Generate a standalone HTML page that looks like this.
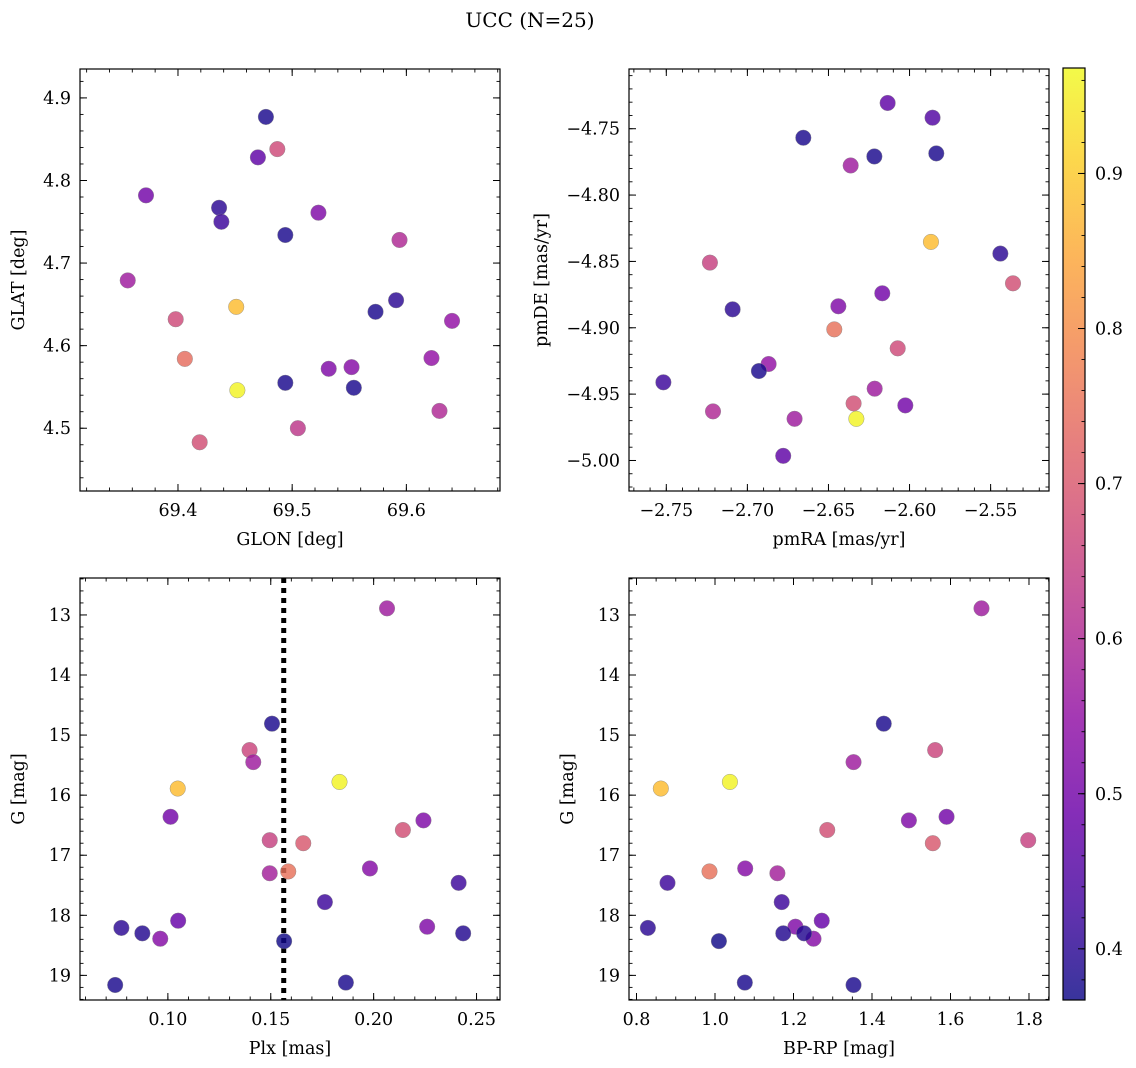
<!DOCTYPE html>
<html><head><meta charset="utf-8"><style>
html,body{margin:0;padding:0;background:#fff}
svg{display:block;font-family:"DejaVu Serif","Liberation Serif",serif}
</style></head><body>
<svg id="fig" width="1136" height="1068" viewBox="0 0 1136 1068" xmlns="http://www.w3.org/2000/svg">
<text x="530" y="27" font-size="20" text-anchor="middle">UCC (N=25)</text>
</svg>
<script>
// Panel 1: GLON vs GLAT
const glonVals=[69.477,69.487,69.470,69.372,69.436,69.438,69.523,69.494,69.594,69.356,69.451,69.591,69.573,69.640,69.398,69.406,69.622,69.532,69.552,69.494,69.452,69.554,69.629,69.505,69.419];
const glatVals=[4.877,4.838,4.828,4.782,4.767,4.750,4.761,4.734,4.728,4.679,4.647,4.655,4.641,4.630,4.632,4.584,4.585,4.572,4.574,4.555,4.546,4.549,4.521,4.500,4.483];
const glonProb=[0.38,0.67,0.47,0.50,0.40,0.42,0.52,0.38,0.60,0.57,0.88,0.40,0.38,0.55,0.67,0.74,0.55,0.52,0.53,0.38,0.96,0.38,0.60,0.63,0.68];
// Panel 2: pmRA vs pmDE
const pmraVals=[-2.6135,-2.5858,-2.6655,-2.6217,-2.5835,-2.6363,-2.5868,-2.5440,-2.7231,-2.5362,-2.6168,-2.7091,-2.6439,-2.6464,-2.6073,-2.6869,-2.6929,-2.7518,-2.6215,-2.7212,-2.6345,-2.6026,-2.6709,-2.6328,-2.6779];
const pmdeVals=[-4.7306,-4.7417,-4.7568,-4.7709,-4.7686,-4.7777,-4.8353,-4.8441,-4.8509,-4.8665,-4.8740,-4.8861,-4.8838,-4.9012,-4.9155,-4.9273,-4.9326,-4.9411,-4.9459,-4.9630,-4.9570,-4.9585,-4.9686,-4.9686,-4.9965];
const pmProb=[0.47,0.45,0.38,0.38,0.38,0.57,0.88,0.40,0.65,0.68,0.50,0.40,0.52,0.75,0.67,0.55,0.38,0.42,0.57,0.60,0.68,0.50,0.57,0.96,0.47];
// Panels 3/4: Plx, BP-RP vs G (shared stars)
const plxVals=[0.2065,0.1506,0.1397,0.1415,0.1048,0.1834,0.1013,0.2242,0.2142,0.1495,0.1658,0.1982,0.1495,0.1585,0.2413,0.1763,0.1050,0.2260,0.0774,0.0876,0.0963,0.2435,0.1565,0.0744,0.1865];
const gVals=[12.89,14.81,15.25,15.45,15.89,15.78,16.36,16.42,16.58,16.75,16.80,17.22,17.30,17.27,17.46,17.78,18.09,18.19,18.21,18.30,18.39,18.30,18.43,19.16,19.12];
const bprpVals=[1.679,1.430,1.561,1.353,0.862,1.038,1.590,1.494,1.286,1.798,1.555,1.077,1.159,0.986,0.879,1.170,1.272,1.205,0.829,1.174,1.251,1.227,1.010,1.353,1.076];
const starProb=[0.57,0.38,0.66,0.57,0.88,0.96,0.50,0.52,0.68,0.65,0.70,0.53,0.58,0.75,0.42,0.42,0.48,0.52,0.40,0.39,0.53,0.39,0.37,0.38,0.38];
const plxCut=[0.1563];
// tick arrays
const glonTicks=[69.4,69.5,69.6];
const glatTicks=[4.5,4.6,4.7,4.8,4.9];
const pmraTicks=[-2.75,-2.70,-2.65,-2.60,-2.55];
const pmdeTicks=[-5.00,-4.95,-4.90,-4.85,-4.80,-4.75];
const plxTicks=[0.10,0.15,0.20,0.25];
const gTicks=[13,14,15,16,17,18,19];
const bprpTicks=[0.8,1.0,1.2,1.4,1.6,1.8];
const cbTicks=[0.4,0.5,0.6,0.7,0.8,0.9];
const VMIN=0.367, VMAX=0.968;

const NS="http://www.w3.org/2000/svg";
const svg=document.getElementById('fig');
function mk(tag,attrs,parent){const e=document.createElementNS(NS,tag);for(const k in attrs)e.setAttribute(k,attrs[k]);(parent||svg).appendChild(e);return e;}
const PL=[[13,8,135],[65,4,157],[106,0,168],[143,13,164],[177,42,144],[204,71,120],[225,100,98],[242,132,75],[252,166,54],[252,206,37],[240,249,33]];
function cmap(v){let t=(v-VMIN)/(VMAX-VMIN);t=Math.max(0,Math.min(1,t))*10;const i=Math.min(9,Math.floor(t)),f=t-i;const a=PL[i],b=PL[i+1];return 'rgb('+a.map((c,j)=>Math.round(c+(b[j]-c)*f)).join(',')+')';}
function fmt(v,d){return (v<0?'\u2212':'')+Math.abs(v).toFixed(d);}

function panel(o){
  const g=mk('g',{});
  
  
  const sx=v=>o.x0+(v-o.xr[0])/(o.xr[1]-o.xr[0])*(o.x1-o.x0);
  const sy=v=>o.inv? o.y0+(v-o.yr[0])/(o.yr[1]-o.yr[0])*(o.y1-o.y0) : o.y1-(v-o.yr[0])/(o.yr[1]-o.yr[0])*(o.y1-o.y0);
  const mt=mk('g',{stroke:'#000','stroke-width':0.9},g);
  
  
  let s=Math.ceil(o.xr[0]/o.xm-1e-9);
  for(let v=s*o.xm;v<=o.xr[1]+1e-9;v+=o.xm){const x=sx(v);mk('line',{x1:x,x2:x,y1:o.y1,y2:o.y1-3.5},mt);mk('line',{x1:x,x2:x,y1:o.y0,y2:o.y0+3.5},mt);}
  s=Math.ceil(o.yr[0]/o.ym-1e-9);
  for(let v=s*o.ym;v<=o.yr[1]+1e-9;v+=o.ym){const y=sy(v);mk('line',{x1:o.x0,x2:o.x0+3.5,y1:y,y2:y},mt);mk('line',{x1:o.x1,x2:o.x1-3.5,y1:y,y2:y},mt);}
  const M=mk('g',{stroke:'#000','stroke-width':1},g);
  
  
  o.xt.forEach(v=>{const x=sx(v);mk('line',{x1:x,x2:x,y1:o.y1,y2:o.y1-7},M);mk('line',{x1:x,x2:x,y1:o.y0,y2:o.y0+7},M);
    const t=mk('text',{x:x,y:o.y1+25,'font-size':17.5,'text-anchor':'middle'},g);t.textContent=fmt(v,o.xd);
    
    });
  o.yt.forEach(v=>{const y=sy(v);mk('line',{x1:o.x0,x2:o.x0+7,y1:y,y2:y},M);mk('line',{x1:o.x1,x2:o.x1-7,y1:y,y2:y},M);
    const t=mk('text',{x:o.x0-9,y:y+6,'font-size':17.5,'text-anchor':'end'},g);t.textContent=fmt(v,o.yd);
    
    });
  if(o.vline){o.vline.forEach(v=>{const l=mk('line',{x1:sx(v),x2:sx(v),y1:o.y0,y2:o.y1,stroke:'#000','stroke-width':5,'stroke-dasharray':'5 5'},g);
    
    });}
  o.xs.forEach((xv,i)=>{const c=mk('circle',{cx:sx(xv),cy:sy(o.ys[i]),r:7.8,fill:cmap(o.cs[i]),'fill-opacity':0.82,stroke:'#888','stroke-width':0.4},g);
    
    });
  const f=mk('rect',{x:o.x0,y:o.y0,width:o.x1-o.x0,height:o.y1-o.y0,fill:'none',stroke:'#000','stroke-width':1.2},g);
  
  
  const xl=mk('text',{x:(o.x0+o.x1)/2,y:o.y1+54,'font-size':17.5,'text-anchor':'middle'},g);xl.textContent=o.xlab;
  
  
  const yc=(o.y0+o.y1)/2, yx=o.ylx;
  const yl=mk('text',{x:yx,y:yc,'font-size':17.5,'text-anchor':'middle',transform:'rotate(-90 '+yx+' '+yc+')'},g);yl.textContent=o.ylab;
  
  
}
panel({name:'glon-glat-panel',x0:80,x1:500,y0:69,y1:491,xr:[69.3142,69.682],yr:[4.424,4.935],xm:0.02,ym:0.02,xt:glonTicks,yt:glatTicks,xd:1,yd:1,xs:glonVals,ys:glatVals,cs:glonProb,xlab:'GLON [deg]',ylab:'GLAT [deg]',ylx:24});
panel({name:'pm-panel',x0:629,x1:1049,y0:69,y1:491,xr:[-2.773,-2.514],yr:[-5.023,-4.705],xm:0.01,ym:0.01,xt:pmraTicks,yt:pmdeTicks,xd:2,yd:2,xs:pmraVals,ys:pmdeVals,cs:pmProb,xlab:'pmRA [mas/yr]',ylab:'pmDE [mas/yr]',ylx:547});
panel({name:'plx-g-panel',x0:80,x1:500,y0:578,y1:1000,xr:[0.0573,0.2614],yr:[12.385,19.41],inv:true,xm:0.01,ym:0.2,xt:plxTicks,yt:gTicks,xd:2,yd:0,xs:plxVals,ys:gVals,cs:starProb,xlab:'Plx [mas]',ylab:'G [mag]',ylx:24,vline:plxCut});
panel({name:'cmd-panel',x0:629,x1:1049,y0:578,y1:1000,xr:[0.7809,1.851],yr:[12.385,19.41],inv:true,xm:0.05,ym:0.2,xt:bprpTicks,yt:gTicks,xd:1,yd:0,xs:bprpVals,ys:gVals,cs:starProb,xlab:'BP-RP [mag]',ylab:'G [mag]',ylx:573});
(function(){
  const x0=1063,x1=1085,y0=68,y1=1000;
  const defs=mk('defs',{});const lg=mk('linearGradient',{id:'cbg',x1:0,y1:1,x2:0,y2:0},defs);
  for(let k=0;k<=20;k++){const v=VMIN+(VMAX-VMIN)*k/20;mk('stop',{offset:(k/20),'stop-color':cmap(v),'stop-opacity':0.82},lg);}
  const r=mk('rect',{x:x0,y:y0,width:x1-x0,height:y1-y0,fill:'url(#cbg)',stroke:'#000','stroke-width':1.2});
  
  
  const sy=v=>y1-(v-VMIN)/(VMAX-VMIN)*(y1-y0);
  for(let v=0.38;v<VMAX;v+=0.02){const y=sy(v);mk('line',{x1:x1,x2:x1-3.5,y1:y,y2:y,stroke:'#000','stroke-width':0.9});}
  cbTicks.forEach(v=>{const y=sy(v);mk('line',{x1:x1,x2:x1-7,y1:y,y2:y,stroke:'#000','stroke-width':1});
    const t=mk('text',{x:x1+10,y:y+6,'font-size':17.5});t.textContent=v.toFixed(1);
    
    });
})();
</script>
</body></html>
